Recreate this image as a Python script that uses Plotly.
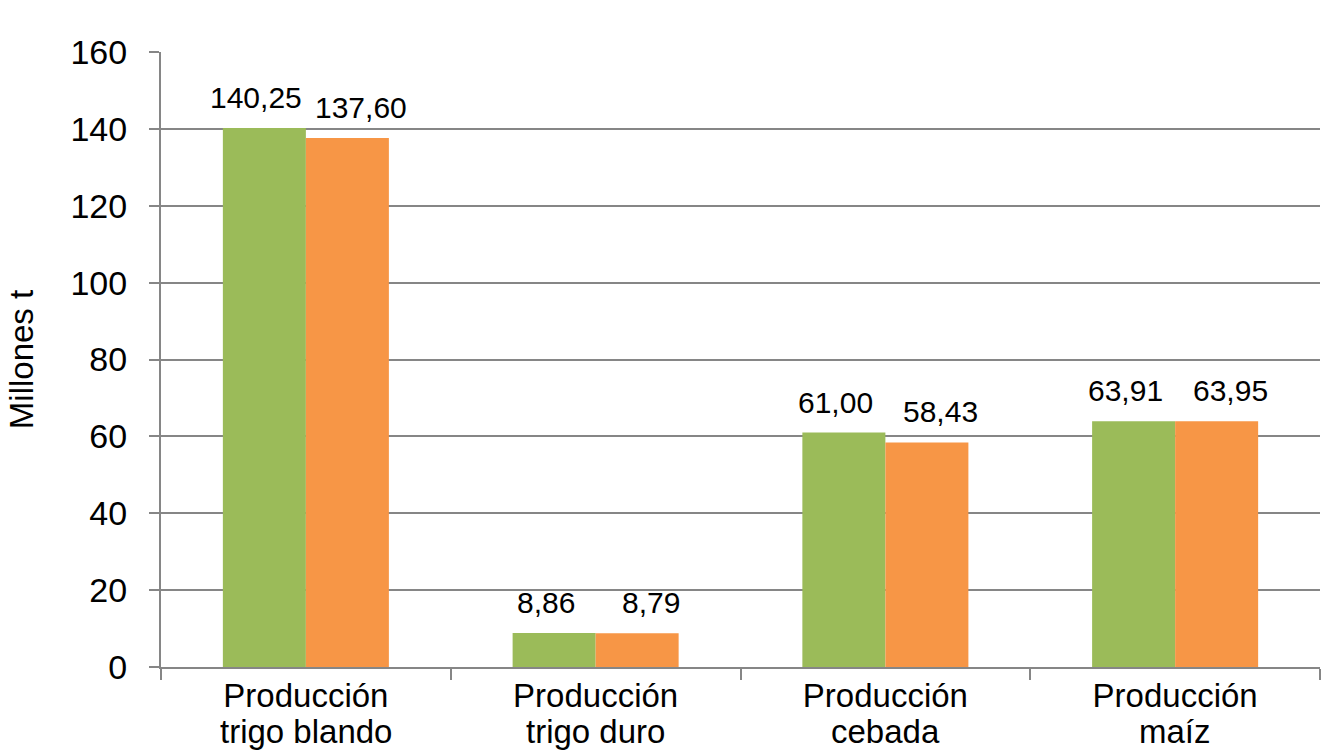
import plotly.graph_objects as go

cat_line1 = ["Producción", "Producción", "Producción", "Producción"]
cat_line2 = ["trigo blando", "trigo duro", "cebada", "maíz"]
categories = [a + " " + b for a, b in zip(cat_line1, cat_line2)]
series_a = [140.25, 8.86, 61.00, 63.91]
series_b = [137.60, 8.79, 58.43, 63.95]
y_ticks = [0, 20, 40, 60, 80, 100, 120, 140, 160]

green = "#9BBB59"
orange = "#F79646"
axis_gray = "#868686"
font_family = "Liberation Sans, Arial, sans-serif"

fig = go.Figure()
for vals, col, name in [(series_a, green, "A"), (series_b, orange, "B")]:
    fig.add_trace(go.Bar(
        x=categories, y=vals, name=name,
        marker=dict(color=col, line=dict(width=0)),
        hoverinfo="x+y",
    ))

# data labels
for vals, shift in [(series_a, -50), (series_b, 55)]:
    for c, v in zip(categories, vals):
        fig.add_annotation(
            x=c, y=v, xref="x", yref="y", text=f"{v:.2f}".replace(".", ","),
            showarrow=False, yanchor="bottom", xanchor="center",
            xshift=shift, yshift=12,
            font=dict(size=30, color="black", family=font_family),
        )

# second line of category labels
for c, t in zip(categories, cat_line2):
    fig.add_annotation(
        x=c, y=0, xref="x", yref="paper", text=t,
        showarrow=False, yanchor="top", xanchor="center", yshift=-44,
        font=dict(size=33, color="black", family=font_family),
    )

fig.update_layout(
    width=1339, height=754,
    barmode="group", bargap=0.427, bargroupgap=0,
    showlegend=False,
    plot_bgcolor="white", paper_bgcolor="white",
    margin=dict(l=161, r=19, t=52, b=87),
    font=dict(family=font_family, color="black"),
)
fig.update_xaxes(
    type="category", tickson="boundaries",
    tickvals=categories, ticktext=cat_line1,
    ticks="outside", ticklen=11, tickcolor=axis_gray, tickwidth=2,
    showline=True, linecolor=axis_gray, linewidth=2,
    showgrid=False, ticklabelstandoff=-2,
    tickfont=dict(size=33, color="black", family=font_family),
)
fig.update_yaxes(
    range=[0, 160], tickvals=y_ticks,
    ticks="outside", ticklen=10, tickcolor=axis_gray, tickwidth=2,
    showline=True, linecolor=axis_gray, linewidth=2,
    showgrid=True, gridcolor=axis_gray, gridwidth=2,
    zeroline=False, ticklabelstandoff=15,
    tickfont=dict(size=34, color="black", family=font_family),
    title=dict(text="Millones t", font=dict(size=33, color="black", family=font_family), standoff=27),
)

fig.write_html("out.html", config={"displayModeBar": False},
               post_script="document.body.style.margin='0';")
